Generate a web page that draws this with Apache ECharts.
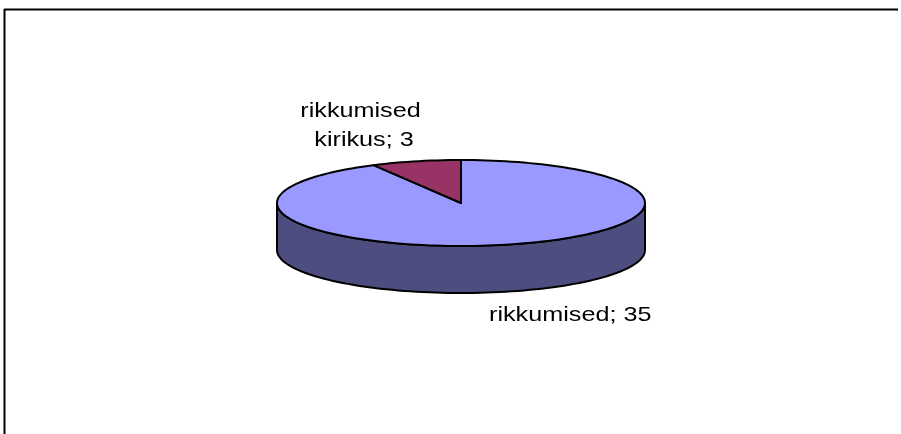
<!DOCTYPE html>
<html>
<head>
<meta charset="utf-8">
<script src="https://cdn.jsdelivr.net/npm/echarts@6/dist/echarts.min.js"></script>
<style>
  html, body { margin: 0; padding: 0; background: #fff; overflow: hidden; }
  #chart { width: 901px; height: 434px; }
</style>
</head>
<body>
<div id="chart"></div>
<script>
// andmed
var categories = ["rikkumised", "rikkumised kirikus"];
var values = [35, 3];
var topColors = ["#9999ff", "#993366"];
var sideColors = ["#4d4d80", "#4d1a33"];

// 3D pirukas: ellipsi keskpunkt, raadiused ja paksus
var cx = 461, cy = 203, rx = 184, ry = 43, depth = 47;
// sildid (ankurpunkt, joondus, murdmislaius)
var labelPos = [
  { x: 489, y: 315.5, align: "left", width: null },
  { x: 364, y: 126, align: "center", width: 112 },
];

var total = values.reduce(function (a, b) { return a + b; }, 0);
var starts = [];
var acc = 0;
values.forEach(function (v) { starts.push((acc / total) * 360); acc += v; });

// nurk t kraadides, mõõdetud kellaosuti suunas ülevalt
function pt(t, dy) {
  var r = (t * Math.PI) / 180;
  return [cx + rx * Math.sin(r), cy - ry * Math.cos(r) + (dy || 0)];
}
function arc(a, b, dy) {
  var pts = [];
  var n = Math.max(2, Math.ceil(Math.abs(b - a) / 2));
  for (var k = 0; k <= n; k++) pts.push(pt(a + ((b - a) * k) / n, dy));
  return pts;
}

var myChart = echarts.init(document.getElementById("chart"));
var option = {
  animation: false,
  graphic: [
    {
      // diagrammiala raam: ülemine serv
      type: "line",
      shape: { x1: 4, y1: 9.5, x2: 898, y2: 9.5 },
      style: { stroke: "#000", lineWidth: 2 },
      silent: true,
    },
    {
      // vasak serv
      type: "line",
      shape: { x1: 4.5, y1: 9, x2: 4.5, y2: 434 },
      style: { stroke: "#000", lineWidth: 2 },
      silent: true,
    },
  ],
  series: [
    {
      type: "custom",
      coordinateSystem: "none",
      data: values.map(function (v, i) { return [i, v]; }),
      renderItem: function (params, api) {
        var i = params.dataIndex;
        var v = api.value(1);
        var a = starts[i];
        var b = a + (v / total) * 360;
        var children = [];
        // esikülg (nähtav osa 90..270 kraadi)
        var s = Math.max(a, 90), e = Math.min(b, 270);
        if (e > s) {
          children.push({
            type: "polygon",
            z2: 0,
            shape: { points: arc(s, e, 0).concat(arc(e, s, depth)) },
            style: { fill: sideColors[i], stroke: "#000", lineWidth: 2, lineJoin: "round" },
          });
        }
        // pealmine pind
        children.push({
          type: "polygon",
          z2: 10,
          shape: { points: [[cx, cy]].concat(arc(a, b, 0)) },
          style: { fill: topColors[i], stroke: "#000", lineWidth: 2, lineJoin: "round" },
        });
        var lp = labelPos[i];
        var ts = {
          text: categories[i] + "; " + v,
          x: 0,
          y: 0,
          align: lp.align,
          verticalAlign: "middle",
          fill: "#000",
          font: '21px "Liberation Sans", Arial, sans-serif',
          lineHeight: 29,
        };
        if (lp.width) { ts.width = lp.width; ts.overflow = "break"; }
        children.push({ type: "text", z2: 20, x: lp.x, y: lp.y, scaleX: 1.2, style: ts });
        return { type: "group", children: children };
      },
    },
  ],
};
myChart.setOption(option);
</script>
</body>
</html>
